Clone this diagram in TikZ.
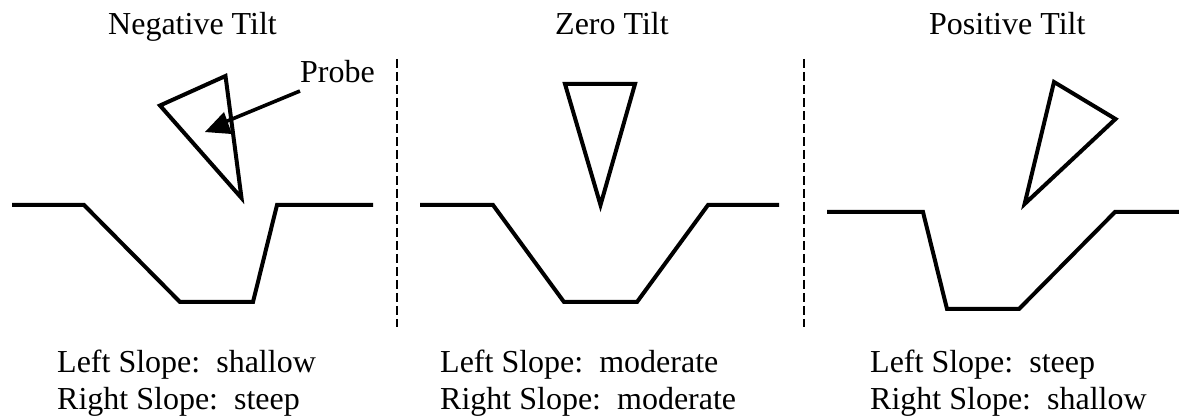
\documentclass[tikz,border=0pt]{standalone}
\usepackage{fontspec}
\setmainfont{Liberation Serif}
\begin{document}
\begin{tikzpicture}[x=1pt,y=-1pt,
  txt/.style={font=\fontsize{32}{37}\selectfont,inner sep=0pt,anchor=base west},
  outline/.style={draw=black,line width=4pt,line join=miter,miter limit=12},
  sep/.style={draw=black,line width=2.6pt,dash pattern=on 9pt off 4pt}]
\useasboundingbox (0,0) rectangle (1179,419);
\fill[white] (0,0) rectangle (1179,419);
\node[txt] (t1) at (108,35) {Negative Tilt};
\node[txt] (t2) at (555,35) {Zero Tilt};
\node[txt] (t3) at (929,35) {Positive Tilt};
\node[txt] (pr) at (300,83) {Probe};
\draw[outline] (160,105.5) -- (225.5,76) -- (241.5,198) -- cycle;
\draw[outline] (565,84) -- (635,84) -- (600.5,205) -- cycle;
\draw[outline] (1054,82) -- (1115.5,119) -- (1024.6,204) -- cycle;
\draw[outline] (12,205) -- (84,205) -- (180,302) -- (253,302) -- (277,205) -- (373,205);
\draw[outline] (420,205) -- (493,205) -- (564,302) -- (637,302) -- (708,205) -- (779,205);
\draw[outline] (827,212) -- (923,212) -- (947,309) -- (1019,309) -- (1115,212) -- (1179,212);
\coordinate (a1) at (300,91);
\coordinate (a2) at (225,122);
\draw[line width=3.6pt] (a1) -- (a2);
\fill (205,132) -- (224,112) -- (232,134) -- cycle;
\coordinate (s1a) at (397,59); \coordinate (s1b) at (397,327);
\coordinate (s2a) at (804,59); \coordinate (s2b) at (804,327);
\draw[sep] (s1a) -- (s1b);
\draw[sep] (s2a) -- (s2b);
\node[txt] (l1a) at (57,373) {Left Slope:\ \ shallow};
\node[txt] (l1b) at (57,410) {Right Slope:\ \ steep};
\node[txt] (l2a) at (440,373) {Left Slope:\ \ moderate};
\node[txt] (l2b) at (440,410) {Right Slope:\ \ moderate};
\node[txt] (l3a) at (870,373) {Left Slope:\ \ steep};
\node[txt] (l3b) at (870,410) {Right Slope:\ \ shallow};
\end{tikzpicture}
\end{document}
